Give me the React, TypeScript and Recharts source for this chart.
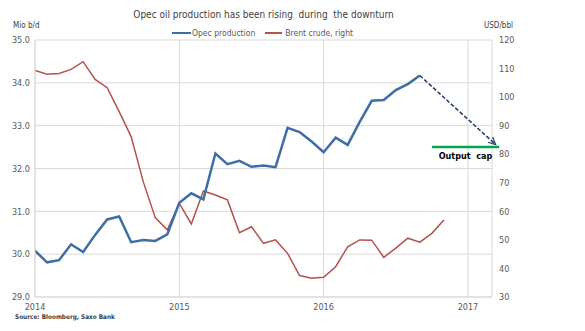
import React from "react";
import {
  ComposedChart,
  Line,
  XAxis,
  YAxis,
  CartesianGrid,
  ReferenceLine,
  Legend,
} from "recharts";

// Monthly observations, index 0 = Jan 2014
const opecProduction = [
  30.08, 29.81, 29.86, 30.23, 30.05, 30.45, 30.81, 30.88, 30.28, 30.33, 30.31, 30.46,
  31.2, 31.42, 31.28, 32.35, 32.1, 32.18, 32.04, 32.07, 32.03, 32.95, 32.85, 32.63,
  32.38, 32.72, 32.55, 33.09, 33.58, 33.6, 33.83, 33.97, 34.17,
];
const brentCrude = [
  109.3, 108.0, 108.3, 109.7, 112.4, 106.2, 103.3, 94.9, 86.1, 70.4, 57.8, 53.5,
  62.8, 55.6, 67.1, 65.7, 64.0, 52.5, 54.6, 48.8, 50.0, 45.3, 37.5, 36.6,
  36.9, 40.6, 47.6, 50.0, 49.9, 43.9, 47.1, 50.6, 49.2, 52.3, 57.0,
];
const yearTicks = [0, 12, 24, 36];
const yearLabels = ["2014", "2015", "2016", "2017"];
const leftTicks = [29, 30, 31, 32, 33, 34, 35];
const rightTicks = [30, 40, 50, 60, 70, 80, 90, 100, 110, 120];
// projection arrow (month index, Mio b/d)
const projectionStart = { m: 32, v: 34.17 };
const projectionEnd = { m: 38.3, v: 32.56 };
// output cap line
const capStart = 33;
const capEnd = 38.6;
const capLevel = 32.5;

const data = brentCrude.map((b, i) => ({
  m: i,
  opec: i < opecProduction.length ? opecProduction[i] : null,
  brent: b,
}));

const FONT = "'DejaVu Sans Condensed', 'Liberation Sans', sans-serif";
const TEXT = "#595959";
const GRID = "#d9d9d9";
const BLUE = "#3f6ea7";
const RED = "#b6504d";

const ArrowShape = (p: any) => {
  const { x1, y1, x2, y2 } = p;
  const ang = Math.atan2(y2 - y1, x2 - x1);
  const L = 8;
  const a1 = ang + Math.PI - 0.45;
  const a2 = ang + Math.PI + 0.45;
  return (
    <g>
      <line x1={x1} y1={y1} x2={x2} y2={y2} stroke="#1f3864" strokeWidth={1.5} strokeDasharray="4 2" />
      <path
        d={`M${x2 + L * Math.cos(a1)},${y2 + L * Math.sin(a1)} L${x2},${y2} L${x2 + L * Math.cos(a2)},${y2 + L * Math.sin(a2)}`}
        fill="none"
        stroke="#1f3864"
        strokeWidth={1.2}
      />
    </g>
  );
};

const CapShape = (p: any) => {
  const { x1, y1, x2, y2 } = p;
  return (
    <g>
      <line x1={x1} y1={y1} x2={x2} y2={y2} stroke="#00a651" strokeWidth={2.5} />
      <text
        x={(x1 + x2) / 2}
        y={y1 + 12}
        textAnchor="middle"
        fontFamily={FONT}
        fontSize={9}
        fontWeight="bold"
        fill="#000"
        style={{ whiteSpace: "pre" }}
      >
        {"Output  cap"}
      </text>
    </g>
  );
};

const LegendContent = () => (
  <div
    style={{
      display: "flex",
      alignItems: "center",
      fontFamily: FONT,
      fontSize: 8.5,
      color: TEXT,
      height: 12,
      lineHeight: "12px",
      whiteSpace: "nowrap",
    }}
  >
    <span style={{ display: "inline-block", width: 19, height: 2.5, background: BLUE, marginRight: 1 }} />
    <span>Opec production</span>
    <span style={{ display: "inline-block", width: 17, height: 1.5, background: RED, marginLeft: 10, marginRight: 3 }} />
    <span>Brent crude, right</span>
  </div>
);

export default function App() {
  return (
    <div style={{ position: "relative", width: 577, height: 323 }}>
      <div
        style={{
          position: "absolute",
          left: 0,
          width: 511,
          top: 1,
          textAlign: "center",
          fontFamily: FONT,
          fontSize: 10,
          color: "#404040",
          whiteSpace: "pre",
        }}
      >
        {"Opec oil production has been rising  during  the downturn"}
      </div>
      <div style={{ position: "absolute", left: 5, top: 13, fontFamily: FONT, fontSize: 8, color: "#404040" }}>
        Mio b/d
      </div>
      <div style={{ position: "absolute", left: 476, top: 13, fontFamily: FONT, fontSize: 8, color: "#404040" }}>
        USD/bbl
      </div>
      <div
        style={{
          position: "absolute",
          left: 7,
          top: 305,
          fontFamily: FONT,
          fontSize: 6.4,
          fontWeight: "bold",
          color: "#404040",
        }}
      >
        Source: Bloomberg, Saxo Bank
      </div>
      <ComposedChart
        width={577}
        height={323}
        data={data}
        margin={{ top: 32, right: 0, bottom: 0, left: 0 }}
        style={{ position: "absolute", left: 0, top: 0 }}
      >
        <CartesianGrid yAxisId="left" stroke={GRID} strokeWidth={1} />
        <XAxis
          dataKey="m"
          type="number"
          domain={[0, 38]}
          ticks={yearTicks}
          tickFormatter={(v: number) => yearLabels[yearTicks.indexOf(v)] ?? ""}
          height={34}
          axisLine={{ stroke: GRID }}
          tickLine={false}
          tickSize={4}
          tickMargin={3}
          tick={{ fontFamily: FONT, fontSize: 9, fill: TEXT }}
          allowDataOverflow
        />
        <YAxis
          yAxisId="left"
          width={27}
          domain={[29, 35]}
          ticks={leftTicks}
          tickFormatter={(v: number) => v.toFixed(1)}
          axisLine={{ stroke: GRID }}
          tickLine={false}
          tickSize={3}
          tickMargin={2}
          tick={{ fontFamily: FONT, fontSize: 9, fill: TEXT }}
          interval={0}
        />
        <YAxis
          yAxisId="right"
          orientation="right"
          width={93}
          domain={[30, 120]}
          ticks={rightTicks}
          axisLine={false}
          tickLine={false}
          tickSize={5}
          tickMargin={2}
          tick={{ fontFamily: FONT, fontSize: 9, fill: TEXT, textAnchor: "start" }}
          interval={0}
        />
        <Legend
          verticalAlign="middle"
          align="center"
          layout="horizontal"
          wrapperStyle={{ top: 19, left: 164, width: 200, height: 12 }}
          content={() => <LegendContent />}
        />
        <Line
          yAxisId="right"
          dataKey="brent"
          stroke={RED}
          strokeWidth={1.5}
          dot={false}
          type="linear"
          isAnimationActive={false}
        />
        <Line
          yAxisId="left"
          dataKey="opec"
          stroke={BLUE}
          strokeWidth={2.5}
          dot={false}
          type="linear"
          connectNulls={false}
          isAnimationActive={false}
        />
        <ReferenceLine
          yAxisId="left"
          segment={[
            { x: capStart, y: capLevel },
            { x: capEnd, y: capLevel },
          ]}
          ifOverflow="visible"
          shape={CapShape}
        />
        <ReferenceLine
          yAxisId="left"
          segment={[
            { x: projectionStart.m, y: projectionStart.v },
            { x: projectionEnd.m, y: projectionEnd.v },
          ]}
          ifOverflow="visible"
          shape={ArrowShape}
        />
      </ComposedChart>
    </div>
  );
}
